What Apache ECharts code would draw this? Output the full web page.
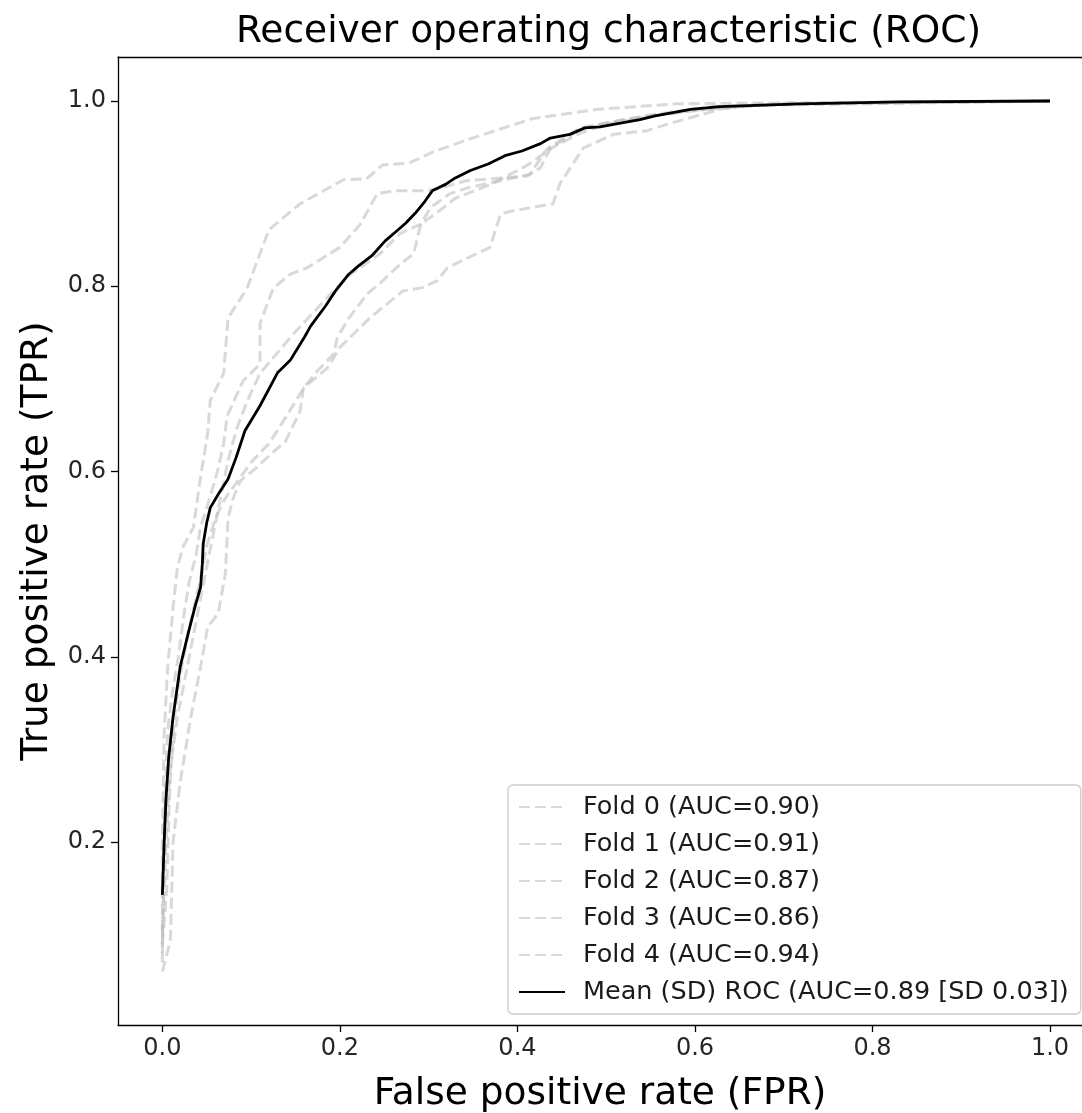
<!DOCTYPE html>
<html>
<head>
<meta charset="utf-8">
<script src="https://cdn.jsdelivr.net/npm/echarts@6/dist/echarts.min.js"></script>
<style>
html,body{margin:0;padding:0;background:#fff;}
#chart{width:1082px;height:1113px;}
</style>
</head>
<body>
<div id="chart"></div>
<script>
const titleText = 'Receiver operating characteristic (ROC)';
const xName = 'False positive rate (FPR)';
const yName = 'True positive rate (TPR)';
const seriesNames = ['Fold 0 (AUC=0.90)','Fold 1 (AUC=0.91)','Fold 2 (AUC=0.87)','Fold 3 (AUC=0.86)','Fold 4 (AUC=0.94)','Mean (SD) ROC (AUC=0.89 [SD 0.03])'];
const xTicks = [0, 0.2, 0.4, 0.6, 0.8, 1.0];
const yTicks = [0.2, 0.4, 0.6, 0.8, 1.0];

const fold0 = [[0,0.10],[0.004,0.20],[0.009,0.281],[0.017,0.335],[0.028,0.389],[0.039,0.443],[0.05,0.497],[0.062,0.555],[0.074,0.612],[0.084,0.647],[0.096,0.677],[0.11,0.706],[0.148,0.749],[0.186,0.788],[0.212,0.813],[0.245,0.835],[0.268,0.857],[0.291,0.867],[0.302,0.885],[0.324,0.90],[0.343,0.906],[0.381,0.914],[0.414,0.921],[0.434,0.949],[0.471,0.971],[0.52,0.98],[0.60,0.99],[0.70,0.997],[1,1]];
const fold1 = [[0,0.08],[0.003,0.25],[0.006,0.32],[0.011,0.36],[0.018,0.40],[0.025,0.45],[0.03,0.48],[0.038,0.51],[0.043,0.54],[0.053,0.57],[0.062,0.60],[0.069,0.63],[0.073,0.66],[0.091,0.698],[0.11,0.716],[0.11,0.76],[0.125,0.798],[0.144,0.813],[0.163,0.82],[0.20,0.842],[0.223,0.867],[0.242,0.90],[0.26,0.903],[0.298,0.903],[0.313,0.906],[0.343,0.914],[0.411,0.919],[0.426,0.928],[0.437,0.949],[0.474,0.971],[0.493,0.975],[0.55,0.985],[0.62,0.994],[0.75,0.998],[1,1]];
const fold2 = [[0,0.09],[0.005,0.15],[0.008,0.25],[0.013,0.33],[0.02,0.38],[0.03,0.43],[0.042,0.48],[0.05,0.52],[0.06,0.55],[0.07,0.57],[0.085,0.59],[0.10,0.61],[0.12,0.63],[0.14,0.66],[0.159,0.69],[0.175,0.709],[0.193,0.727],[0.197,0.744],[0.208,0.763],[0.231,0.792],[0.245,0.803],[0.268,0.824],[0.283,0.835],[0.291,0.867],[0.31,0.88],[0.33,0.895],[0.37,0.91],[0.41,0.93],[0.44,0.95],[0.47,0.965],[0.50,0.975],[0.56,0.985],[0.65,0.995],[1,1]];
const fold3 = [[0,0.06],[0.009,0.094],[0.012,0.20],[0.02,0.264],[0.032,0.335],[0.043,0.389],[0.051,0.432],[0.063,0.447],[0.071,0.49],[0.074,0.55],[0.08,0.572],[0.088,0.59],[0.102,0.601],[0.118,0.615],[0.139,0.633],[0.155,0.665],[0.159,0.69],[0.186,0.712],[0.20,0.734],[0.234,0.766],[0.271,0.795],[0.291,0.798],[0.31,0.806],[0.321,0.82],[0.369,0.842],[0.381,0.878],[0.392,0.881],[0.44,0.889],[0.448,0.911],[0.474,0.949],[0.508,0.964],[0.546,0.968],[0.569,0.975],[0.628,0.991],[0.666,0.996],[1,1]];
const fold4 = [[0,0.07],[0,0.20],[0.002,0.318],[0.006,0.389],[0.012,0.453],[0.017,0.497],[0.023,0.518],[0.035,0.54],[0.043,0.594],[0.051,0.641],[0.054,0.677],[0.069,0.706],[0.074,0.766],[0.095,0.797],[0.12,0.861],[0.155,0.889],[0.204,0.915],[0.23,0.916],[0.248,0.931],[0.278,0.933],[0.305,0.945],[0.343,0.958],[0.417,0.981],[0.49,0.991],[0.58,0.997],[0.70,0.998],[1,1]];
const meanRoc = [[0,0.143],[0.002,0.20],[0.004,0.245],[0.007,0.29],[0.012,0.335],[0.02,0.389],[0.029,0.425],[0.037,0.455],[0.043,0.475],[0.045,0.50],[0.046,0.522],[0.05,0.545],[0.054,0.561],[0.064,0.577],[0.074,0.592],[0.083,0.615],[0.093,0.644],[0.11,0.671],[0.13,0.707],[0.144,0.72],[0.16,0.745],[0.167,0.757],[0.184,0.779],[0.195,0.795],[0.21,0.813],[0.221,0.822],[0.236,0.833],[0.251,0.849],[0.262,0.858],[0.274,0.868],[0.285,0.879],[0.296,0.892],[0.304,0.903],[0.319,0.91],[0.33,0.917],[0.347,0.925],[0.367,0.932],[0.386,0.941],[0.405,0.946],[0.426,0.954],[0.437,0.96],[0.459,0.964],[0.476,0.971],[0.493,0.972],[0.516,0.976],[0.538,0.98],[0.555,0.984],[0.595,0.991],[0.628,0.994],[0.718,0.997],[0.83,0.999],[1,1]];

const folds = [fold0, fold1, fold2, fold3, fold4];
const FONT = 'DejaVu Sans';
const GRAY = 'rgba(185,185,185,0.55)';
const chart = echarts.init(document.getElementById('chart'), null, {renderer: 'canvas'});

const series = folds.map((d, i) => ({
  name: seriesNames[i], type: 'line', data: d, symbol: 'none', showSymbol: false,
  lineStyle: {color: GRAY, width: 3, type: [11, 5]},
  itemStyle: {color: GRAY},
  z: 2, silent: true
}));
series.push({
  name: seriesNames[5], type: 'line', data: meanRoc, symbol: 'none', showSymbol: false,
  lineStyle: {color: '#000', width: 2.8}, itemStyle: {color: '#000'}, z: 5, silent: true
});

const axisLineStyle = {color: '#000', width: 1.3};

chart.setOption({
  animation: false,
  backgroundColor: '#fff',
  title: {
    text: titleText, left: 231, top: 8,
    textStyle: {fontFamily: FONT, fontSize: 37.5, fontWeight: 'normal', color: '#000'}
  },
  grid: {left: 118, top: 57, right: 0, height: 968, show: false, outerBoundsMode: 'none', containLabel: false},
  xAxis: [{
    type: 'value', min: -0.05, max: 1.036,
    name: xName, nameLocation: 'middle', nameGap: 50,
    nameTextStyle: {fontFamily: FONT, fontSize: 37.5, color: '#000'},
    axisLine: {show: true, onZero: false, lineStyle: axisLineStyle},
    axisTick: {show: true, customValues: xTicks, length: 7, lineStyle: axisLineStyle},
    axisLabel: {customValues: xTicks, formatter: v => Number(v).toFixed(1), fontFamily: FONT, fontSize: 24, color: '#262626', margin: 12},
    splitLine: {show: false}
  }, {
    type: 'value', position: 'top', min: -0.05, max: 1.036,
    axisLine: {show: true, onZero: false, lineStyle: axisLineStyle},
    axisTick: {show: false}, axisLabel: {show: false}, splitLine: {show: false}
  }],
  yAxis: {
    type: 'value', min: 0.0025, max: 1.0475,
    name: yName, nameLocation: 'middle', nameGap: 62,
    nameTextStyle: {fontFamily: FONT, fontSize: 37.5, color: '#000'},
    axisLine: {show: true, onZero: false, lineStyle: axisLineStyle},
    axisTick: {show: true, customValues: yTicks, length: 7, lineStyle: axisLineStyle},
    axisLabel: {customValues: yTicks, formatter: v => Number(v).toFixed(1), fontFamily: FONT, fontSize: 24, color: '#262626', margin: 12},
    splitLine: {show: false}
  },
  legend: {
    orient: 'vertical', left: 508, top: 785,
    data: seriesNames,
    itemWidth: 46, itemHeight: 14, itemGap: 9,
    itemStyle: {opacity: 0},
    backgroundColor: '#fff', borderColor: '#cccccc', borderWidth: 1.3, borderRadius: 5,
    padding: [8, 12, 8, 10],
    textStyle: {fontFamily: FONT, fontSize: 25.5, color: '#1a1a1a', lineHeight: 28, padding: [0, 0, 0, 13]},
    selectedMode: false
  },
  series: series
});
</script>
</body>
</html>
